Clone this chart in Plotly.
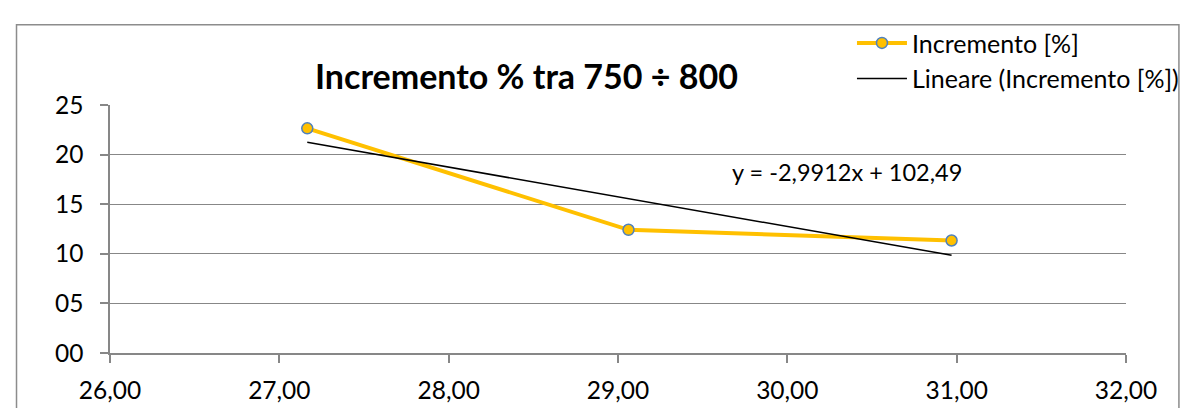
import plotly.graph_objects as go

# ---- data ----
x_vals = [27.165, 29.062, 30.97]
y_vals = [22.65, 12.42, 11.34]
series_name = "Incremento [%]"
trend_name = "Lineare (Incremento [%])"
trend_slope = -2.9912
trend_intercept = 102.49
trend_label = "y = -2,9912x + 102,49"
title_text = "Incremento % tra 750 ÷ 800"
x_ticks = [26, 27, 28, 29, 30, 31, 32]
y_ticks = [0, 5, 10, 15, 20, 25]

trend_x = [min(x_vals), max(x_vals)]
trend_y = [trend_slope * v + trend_intercept for v in trend_x]

W, H = 1188, 408
ML, MR, MT, MB = 102, 59, 97, 48
PW, PH = W - ML - MR, H - MT - MB


def px(xp):
    return (xp - ML) / PW


def py(yp):
    return 1 - (yp - MT) / PH


FONT = "Lato, 'Open Sans', sans-serif"
GRID = "#878787"

fig = go.Figure()
fig.add_trace(go.Scatter(
    x=x_vals, y=y_vals, mode="lines+markers", name=series_name,
    legendgroup="a",
    line=dict(color="#FFC000", width=4),
    marker=dict(size=11, color="#FFC000", line=dict(color="#4F81BD", width=1.5)),
))
fig.add_trace(go.Scatter(
    x=trend_x, y=trend_y, mode="lines", name=trend_name,
    legendgroup="b",
    line=dict(color="#000000", width=1.5),
))

fig.add_annotation(
    x=30.35, y=18.2, xref="x", yref="y", text=trend_label, showarrow=False,
    xanchor="center", yanchor="middle", font=dict(family=FONT, size=23.5, color="#000"),
)
fig.add_annotation(
    x=px(523), y=py(66), xref="paper", yref="paper", text="<b>" + title_text + "</b>",
    showarrow=False, xanchor="center", yanchor="middle",
    font=dict(family=FONT, size=34, color="#000"),
)

# chart border
fig.add_shape(type="rect", xref="paper", yref="paper",
              x0=px(7.5), x1=px(1182.5), y0=py(420), y1=py(12),
              line=dict(color="#8c8c8c", width=1.5), fillcolor="rgba(0,0,0,0)", layer="below")

fig.update_layout(
    width=W, height=H,
    margin=dict(l=ML, r=MR, t=MT, b=MB, pad=0),
    paper_bgcolor="white", plot_bgcolor="white",
    separators=",.",
    font=dict(family=FONT, size=24, color="#000"),
    showlegend=True,
    legend=dict(
        x=px(852), y=py(7), xanchor="left", yanchor="top",
        xref="paper", yref="paper",
        traceorder="grouped", tracegroupgap=0,
        font=dict(family=FONT, size=25, color="#000"),
        bgcolor="rgba(0,0,0,0)", itemwidth=50,
    ),
    xaxis=dict(
        range=[26, 32], tickvals=x_ticks, tickformat=".2f",
        showgrid=False, zeroline=False,
        showline=True, linecolor=GRID, linewidth=1.5,
        ticks="outside", ticklen=8, tickcolor=GRID, tickwidth=1.5,
        ticklabelstandoff=7,
        tickfont=dict(family=FONT, size=24.5, color="#000"),
    ),
    yaxis=dict(
        range=[0, 25], tickvals=y_ticks, tickformat="02d",
        showgrid=True, gridcolor=GRID, gridwidth=1.2, zeroline=False,
        showline=True, linecolor=GRID, linewidth=1.5,
        ticks="outside", ticklen=8, tickcolor=GRID, tickwidth=1.5,
        ticklabelstandoff=12,
        tickfont=dict(family=FONT, size=24.5, color="#000"),
    ),
)

fig.write_html("out.html")
